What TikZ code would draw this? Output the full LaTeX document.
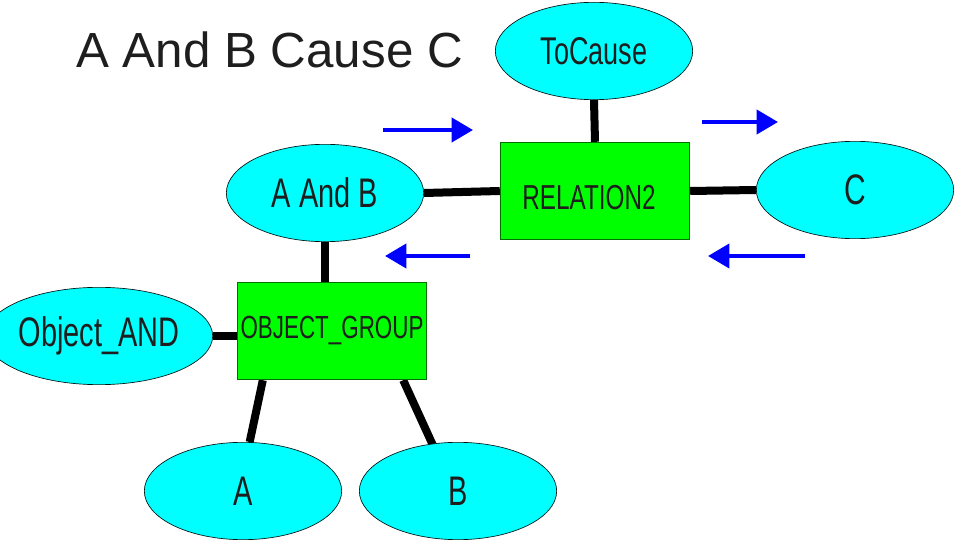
\documentclass[tikz,border=0pt]{standalone}
\usepackage{fontspec}
\setmainfont{Liberation Sans}
\newfontfamily\narrowsans{Liberation Sans}[FakeStretch=0.7]
\usetikzlibrary{shapes.geometric, arrows.meta, positioning, backgrounds}
\definecolor{nodecyan}{RGB}{0,255,255}
\definecolor{boxgreen}{RGB}{0,255,0}
\definecolor{boxedge}{RGB}{0,110,0}
\definecolor{inktext}{RGB}{30,30,30}
\tikzset{
  entity/.style={ellipse, draw=black!85!teal, fill=nodecyan, line width=0.5pt,
    minimum width=148pt, minimum height=73pt, inner sep=0pt, text=inktext,
    font=\narrowsans\fontsize{31}{31}\selectfont},
  relbox/.style={rectangle, draw=boxedge, fill=boxgreen, line width=0.8pt,
    minimum width=142pt, minimum height=73pt, inner sep=0pt, text=inktext,
    font=\narrowsans\fontsize{26}{26}\selectfont},
  link/.style={black, line width=6pt},
  flow/.style={blue, line width=3pt, -{Triangle[length=16pt,width=18pt]}}
}

\begin{document}
\begin{tikzpicture}[x=0.75pt, y=-0.75pt]
  \useasboundingbox (0,0) rectangle (954,545);

  % title
  \node[anchor=base west, inner sep=0pt, text=inktext, font=\fontsize{37}{37}\selectfont]
    (title) at (76,68) {A And B Cause C};

  % concepts and relations
  \node[entity, font=\narrowsans\fontsize{29}{29}\selectfont] (tocause) at (594,51) {ToCause};
  \node[relbox] (relation) at (595,191) {\hspace*{-9pt}\raisebox{-13.8pt}[0pt][0pt]{RELATION2}};
  \node[entity] (aandb) at (325,193) {A And B};
  \node[entity, font=\narrowsans\fontsize{32}{32}\selectfont] (c) at (855,190) {C};
  \node[relbox, font=\narrowsans\fontsize{24}{24}\selectfont] (group) at (332,331) {\raisebox{-1.5pt}{OBJECT\_GROUP}};
  \node[entity] (objand) at (99,336) {Object\_AND};
  \node[entity] (a) at (243,491) {A};
  \node[entity] (b) at (458,491) {B};

  % links
  \begin{scope}[on background layer]
    \draw[link] (tocause.south) -- (relation.north);
    \draw[link] (aandb.east) -- (relation.west);
    \draw[link] (relation.east) -- (c.west);
    \draw[link] (aandb.south) -- (aandb.south |- group.north);
    \draw[link] (objand.east) -- (objand.east -| group.west);
    \draw[link] ([xshift=5pt]a.north) -- ([xshift=19.5pt]group.south west);
    \draw[link] ([xshift=-19pt, yshift=-2pt]b.north) -- ([xshift=-18pt]group.south east);
  \end{scope}

  % direction arrows
  \coordinate (in1) at (383,130);  \coordinate (out1) at (473,130);
  \coordinate (in2) at (702,122);  \coordinate (out2) at (778,122);
  \coordinate (in3) at (470,256);  \coordinate (out3) at (385,256);
  \coordinate (in4) at (805,256);  \coordinate (out4) at (708,256);
  \foreach \n in {1,...,4} {
    \draw[flow] (in\n) -- (out\n);
  }
\end{tikzpicture}
\end{document}
